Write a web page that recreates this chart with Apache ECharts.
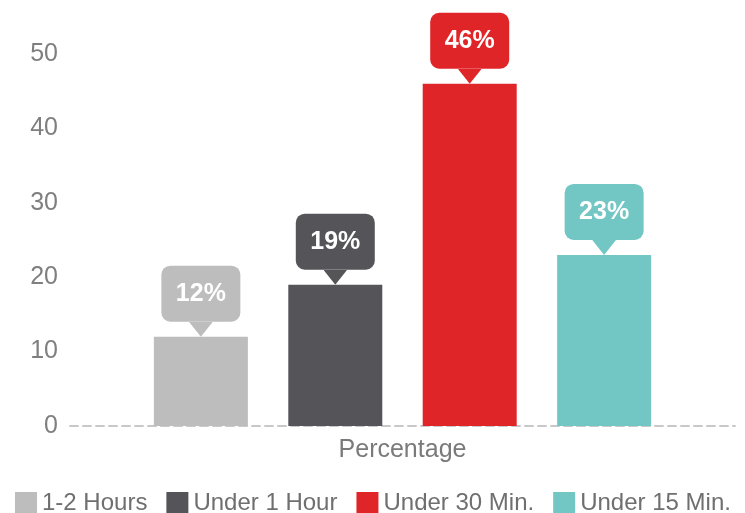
<!DOCTYPE html>
<html>
<head>
<meta charset="utf-8">
<script src="https://cdn.jsdelivr.net/npm/echarts@6/dist/echarts.min.js"></script>
<style>html,body{margin:0;padding:0;background:#fff}#c{width:745px;height:513px}</style>
</head>
<body>
<div id="c"></div>
<script>
const categories = ['Percentage'];
const seriesNames = ['1-2 Hours', 'Under 1 Hour', 'Under 30 Min.', 'Under 15 Min.'];
const seriesValues = [12, 19, 46, 23];
const seriesColors = ['#bdbdbd', '#555459', '#e02528', '#72c7c4'];
const yTicks = [0, 10, 20, 30, 40, 50];

function arrowImg(color) {
  const svg = "<svg xmlns='http://www.w3.org/2000/svg' width='24' height='15'><polygon points='0,0 24,0 12,15' fill='" + color + "'/></svg>";
  return 'data:image/svg+xml;charset=utf-8,' + encodeURIComponent(svg);
}

const FONT = 'Liberation Sans, Arial, Helvetica, sans-serif';
const chart = echarts.init(document.getElementById('c'), null, {renderer: 'canvas'});

const series = seriesNames.map((name, i) => ({
  name: name,
  type: 'bar',
  data: [seriesValues[i]],
  barWidth: 94,
  barGap: '43%',
  itemStyle: {color: seriesColors[i]},
  label: {
    show: true,
    position: 'top',
    distance: 0,
    formatter: p => '{box|' + p.value + '%}\n{arr| }',
    rich: {
      box: {
        width: 79, height: 56, lineHeight: 56,
        backgroundColor: seriesColors[i],
        borderRadius: 9,
        color: '#fff', fontSize: 25, fontWeight: 'bold', fontFamily: FONT,
        align: 'center'
      },
      arr: {
        width: 24, height: 15, lineHeight: 15,
        backgroundColor: {image: arrowImg(seriesColors[i])},
        align: 'center', fontSize: 1
      }
    }
  }
}));

chart.setOption({
  animation: false,
  textStyle: {fontFamily: FONT},
  grid: {left: 70, right: 10, top: 54, bottom: 87},
  legend: {
    data: seriesNames,
    left: 10, right: 0, top: 486,
    itemWidth: 22, itemHeight: 22, itemGap: 19,
    icon: 'rect',
    textStyle: {fontSize: 24, color: '#6f6f6f', fontFamily: FONT}
  },
  xAxis: {
    type: 'category',
    data: categories,
    axisTick: {show: false},
    axisLine: {lineStyle: {color: '#c8c8c8', width: 2, type: [8, 5]}},
    axisLabel: {fontSize: 25, color: '#7a7a7a', margin: 12, fontFamily: FONT}
  },
  yAxis: {
    type: 'value',
    min: yTicks[0], max: yTicks[yTicks.length - 1], interval: 10,
    splitLine: {show: false},
    axisLine: {show: false},
    axisTick: {show: false},
    axisLabel: {fontSize: 25, color: '#7f7f7f', margin: 12, fontFamily: FONT}
  },
  series: series
});
</script>
</body>
</html>
